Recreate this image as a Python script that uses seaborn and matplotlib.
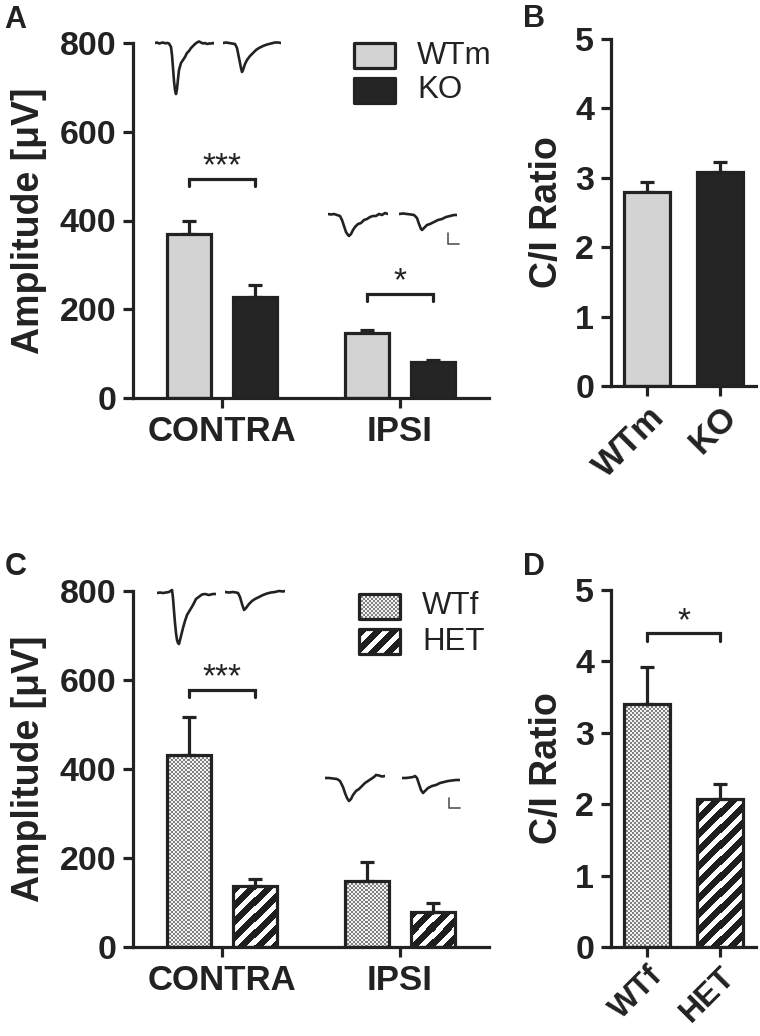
import numpy as np
import pandas as pd
import matplotlib
matplotlib.use("Agg")
import matplotlib.pyplot as plt
from matplotlib.patches import Rectangle
import seaborn as sns

# ---- data ----
sides = ["CONTRA", "IPSI"]
male_groups = ["WTm", "KO"]
female_groups = ["WTf", "HET"]

amp_wtm = [369, 146]
amp_wtm_sem = [29, 7]
amp_ko = [228, 81]
amp_ko_sem = [27, 5]

ratio_male = [2.80, 3.08]
ratio_male_sem = [0.14, 0.15]

amp_wtf = [431, 148]
amp_wtf_sem = [86, 43]
amp_het = [137, 79]
amp_het_sem = [16, 20]

ratio_female = [3.40, 2.07]
ratio_female_sem = [0.52, 0.21]

# significance brackets: category index, label, bracket height
sig_a = [(0, "***", 493), (1, "*", 234)]
sig_c = [(0, "***", 578)]
sig_d = [(None, "*", 4.40)]

# example field potential traces (arbitrary units, 1 unit ~ 1 px)
tr_a_cw_t = [0, 2, 4, 6, 8, 10, 12, 14, 16, 17, 18, 19, 20, 21, 22, 23, 24, 26, 28, 30, 32, 34, 36, 38, 40, 42, 44, 46, 48, 50, 52, 54, 56, 58, 59]
tr_a_cw_v = [0, 0.5, -0.5, 0, 0.5, -0.3, 0, -0.5, -4, -12, -25, -38, -47, -51, -46, -36, -27, -20, -17, -14, -10, -8, -5, -3, -1, 0.5, 1.5, 0.5, -0.5, 0, -1, -0.5, -0.5, 0, -0.5]
tr_a_ck_t = [0, 3, 6, 9, 12, 14, 16, 18, 19, 20, 22, 24, 27, 30, 33, 36, 40, 44, 48, 52, 55, 58]
tr_a_ck_v = [0, 0.5, 0, -0.5, -1, -5, -15, -25, -29, -27, -21, -17, -13, -10, -7, -5, -3, -1.5, -0.5, 0.5, 0.5, 0]
tr_a_iw_t = [0, 3, 6, 9, 12, 14, 16, 18, 20, 21, 23, 25, 27, 30, 33, 36, 39, 42, 45, 48, 51, 54, 57, 60]
tr_a_iw_v = [0, -0.5, 0, -1, -2, -6, -12, -18, -21, -22, -20, -16, -13, -10, -9, -6, -5, -3, -2, -2, 0, -1, 1, 0]
tr_a_ik_t = [0, 4, 8, 12, 15, 18, 20, 22, 23, 25, 28, 31, 35, 39, 43, 47, 51, 55, 58]
tr_a_ik_v = [0, 0.5, 0, -0.5, -1, -4, -10, -15, -16, -14, -11, -10, -8, -6, -5, -3, -2, -1, -1]

tr_c_cw_t = [0, 3, 6, 9, 12, 15, 16, 17, 18, 19, 20, 21, 22, 23, 24, 26, 28, 30, 33, 36, 39, 43, 45, 48, 52, 56, 59]
tr_c_cw_v = [0, 0.5, 0, 0.5, 1, 3, -5, -18, -30, -40, -47, -50, -51, -47, -43, -35, -28, -22, -17, -12, -6, -3, -1.5, -1, -2, -1, -1]
tr_c_ch_t = [0, 4, 8, 11, 13, 15, 17, 19, 21, 24, 27, 30, 34, 38, 42, 46, 50, 54, 58, 60]
tr_c_ch_v = [0, -0.5, 0, -0.5, -1, -5, -12, -18, -16, -12, -9, -7, -5, -3, -1.5, -0.5, 0, 1, 0.5, 1]
tr_c_iw_t = [0, 4, 8, 12, 15, 18, 20, 22, 24, 26, 28, 31, 34, 37, 40, 43, 46, 49, 51, 54, 57, 60]
tr_c_iw_v = [0, 0, -0.5, -1, -3, -9, -15, -20, -23, -21, -17, -13, -11, -8, -5, -3, -1, 1, 3, 2.5, 1.5, 2]
tr_c_ih_t = [0, 4, 8, 11, 13, 15, 17, 19, 21, 23, 26, 30, 34, 38, 42, 46, 50, 54, 58]
tr_c_ih_v = [0, 0, 0.5, 1, 2, 0, -6, -12, -15, -13, -10, -8, -7, -5, -4, -3, -2.5, -2, -2]

# ---- style ----
INK = "#222222"
LIGHT = "#d3d3d3"
DARK = "#252525"

sns.set_style("ticks")
plt.rcParams["font.family"] = ["Liberation Sans", "DejaVu Sans"]
plt.rcParams.update({
    "font.weight": "bold",
    "axes.labelweight": "bold",
    "axes.linewidth": 2.3,
    "axes.edgecolor": INK,
    "axes.labelcolor": INK,
    "text.color": INK,
    "xtick.color": INK,
    "ytick.color": INK,
})

W, H = 760, 1036
fig = plt.figure(figsize=(W / 100, H / 100), dpi=100)


def px_axes(left, top, right, bottom):
    return fig.add_axes([left / W, 1 - bottom / H, (right - left) / W, (bottom - top) / H])


def texture(ax, patch, kind):
    x0, y0 = patch.get_x(), patch.get_y()
    x1, y1 = x0 + patch.get_width(), y0 + patch.get_height()
    (px0, py0), (px1, py1) = ax.transData.transform([(x0, y0), (x1, y1)])
    w, h = max(int(round(px1 - px0)), 1), max(int(round(py1 - py0)), 1)
    ii, jj = np.indices((h, w))
    if kind == "checker":
        tex = np.where(((ii // 2) + (jj // 2)) % 2 == 0, 0.5, 0.95)
    else:
        tex = np.where((ii + jj) % 16 < 9, 0.12, 1.0)
    xl, yl = ax.get_xlim(), ax.get_ylim()
    im = ax.imshow(tex, cmap="gray", vmin=0, vmax=1, extent=[x0, x1, y0, y1],
                   aspect="auto", interpolation="nearest", zorder=1)
    im.set_clip_path(patch)
    patch.set_facecolor("none")
    patch.set_zorder(2)
    ax.set_xlim(xl)
    ax.set_ylim(yl)


def sem_bars(ax, container, means, sems):
    xs = [b.get_x() + b.get_width() / 2 for b in container]
    ax.errorbar(xs, means, yerr=[np.zeros(len(sems)), sems], fmt="none",
                ecolor=INK, elinewidth=2.3, capsize=4.7, capthick=2.3, zorder=1.5)


def bracket(ax, x1, x2, y, leg, label, star_off):
    ax.plot([x1, x1, x2, x2], [y - leg, y, y, y - leg], color=INK, lw=2.3,
            solid_joinstyle="miter", clip_on=False)
    ax.text((x1 + x2) / 2, y + star_off, label, ha="center", va="baseline",
            fontsize=24, fontweight="normal", clip_on=False)


def style_axes(ax, ymax, yticks, rot=0):
    ax.set_ylim(0, ymax)
    ax.set_yticks(yticks)
    ax.set_xlim(-0.5, 1.5)
    sns.despine(ax=ax)
    ax.tick_params(width=2.3, length=7.2, pad=5)
    ax.tick_params(axis="y", labelsize=24.5)
    ax.tick_params(axis="x", labelsize=25)
    ax.set_xlabel("")
    if rot:
        ax.tick_params(axis="x", labelsize=25, pad=3)
        for lab in ax.get_xticklabels():
            lab.set_rotation(45)
            lab.set_ha("right")
            lab.set_rotation_mode("anchor")


def trace(t, v, left, base):
    tax = fig.add_axes([left / W, 1 - (base + 60) / H, t[-1] / W, 70 / H])
    tax.plot(t, v, color=INK, lw=1.9, solid_joinstyle="round")
    tax.set_xlim(0, t[-1])
    tax.set_ylim(-60, 10)
    tax.axis("off")


def scale_bar(corner_x, corner_y, vlen, hlen):
    sax = fig.add_axes([corner_x / W, 1 - (corner_y + 2) / H, (hlen + 2) / W, (vlen + 4) / H])
    sax.plot([0, 0, hlen], [vlen, 0, 0], color="#555555", lw=1.2)
    sax.set_xlim(-1, hlen + 1)
    sax.set_ylim(-2, vlen + 2)
    sax.axis("off")


def legend(left, top, labels, kinds):
    lax = fig.add_axes([left / W, 1 - (top + 62) / H, 140 / W, 62 / H])
    lax.set_xlim(0, 140)
    lax.set_ylim(0, 62)
    lax.axis("off")
    for k, (lab, kind) in enumerate(zip(labels, kinds)):
        y0 = 37 - 35 * k
        fc = {"light": LIGHT, "dark": DARK}.get(kind, "white")
        r = Rectangle((0, y0), 41, 25, facecolor=fc, edgecolor=INK, lw=2.3,
                      joinstyle="round", clip_on=False)
        lax.add_patch(r)
        if kind in ("checker", "stripe"):
            texture(lax, r, kind)
        lax.text(63, y0 + 12.5, lab, va="center", ha="left", fontsize=22.5,
                 fontweight="normal", color=INK)


# ---- panel A ----
ax_a = px_axes(133, 43, 489, 398)
df_a = pd.DataFrame({"side": sides * 2,
                     "group": [male_groups[0]] * 2 + [male_groups[1]] * 2,
                     "amp": amp_wtm + amp_ko})
sns.barplot(data=df_a, x="side", y="amp", hue="group", order=sides, hue_order=male_groups,
            palette=[LIGHT, DARK], width=0.74, gap=0.34, errorbar=None, edgecolor=INK,
            linewidth=2.3, legend=False, ax=ax_a, zorder=2)
style_axes(ax_a, 800, [0, 200, 400, 600, 800])
sem_bars(ax_a, ax_a.containers[0], amp_wtm, amp_wtm_sem)
sem_bars(ax_a, ax_a.containers[1], amp_ko, amp_ko_sem)
ax_a.set_ylabel("Amplitude [μV]", fontsize=27, fontweight="bold", labelpad=9)
for idx, lab, yb in sig_a:
    b1, b2 = ax_a.containers[0][idx], ax_a.containers[1][idx]
    bracket(ax_a, b1.get_x() + b1.get_width() / 2, b2.get_x() + b2.get_width() / 2,
            yb, 15, lab, 8)
legend(354, 43, male_groups, ["light", "dark"])
trace(tr_a_cw_t, tr_a_cw_v, 155, 43)
trace(tr_a_ck_t, tr_a_ck_v, 223, 43)
trace(tr_a_iw_t, tr_a_iw_v, 328, 214)
trace(tr_a_ik_t, tr_a_ik_v, 399, 214)
scale_bar(447, 244, 11, 11)

# ---- panel B ----
ax_b = px_axes(611, 39, 756, 386)
df_b = pd.DataFrame({"group": male_groups, "ratio": ratio_male})
sns.barplot(data=df_b, x="group", y="ratio", hue="group", palette=[LIGHT, DARK],
            width=0.64, errorbar=None, edgecolor=INK, linewidth=2.3, legend=False,
            ax=ax_b, zorder=2)
style_axes(ax_b, 5, [0, 1, 2, 3, 4, 5], rot=45)
sem_bars(ax_b, ax_b.containers[0], ratio_male[:1], ratio_male_sem[:1])
sem_bars(ax_b, ax_b.containers[1], ratio_male[1:], ratio_male_sem[1:])
ax_b.set_ylabel("C/I Ratio", fontsize=27, fontweight="bold", labelpad=7)

# ---- panel C ----
ax_c = px_axes(133, 591, 489, 947)
df_c = pd.DataFrame({"side": sides * 2,
                     "group": [female_groups[0]] * 2 + [female_groups[1]] * 2,
                     "amp": amp_wtf + amp_het})
sns.barplot(data=df_c, x="side", y="amp", hue="group", order=sides, hue_order=female_groups,
            palette=["white", "white"], width=0.74, gap=0.34, errorbar=None, edgecolor=INK,
            linewidth=2.3, legend=False, ax=ax_c, zorder=2)
style_axes(ax_c, 800, [0, 200, 400, 600, 800])
for b in ax_c.containers[0]:
    texture(ax_c, b, "checker")
for b in ax_c.containers[1]:
    texture(ax_c, b, "stripe")
sem_bars(ax_c, ax_c.containers[0], amp_wtf, amp_wtf_sem)
sem_bars(ax_c, ax_c.containers[1], amp_het, amp_het_sem)
ax_c.set_ylabel("Amplitude [μV]", fontsize=27, fontweight="bold", labelpad=9)
for idx, lab, yb in sig_c:
    b1, b2 = ax_c.containers[0][idx], ax_c.containers[1][idx]
    bracket(ax_c, b1.get_x() + b1.get_width() / 2, b2.get_x() + b2.get_width() / 2,
            yb, 16, lab, 8)
legend(359, 594, female_groups, ["checker", "stripe"])
trace(tr_c_cw_t, tr_c_cw_v, 157, 593)
trace(tr_c_ch_t, tr_c_ch_v, 225, 592)
trace(tr_c_iw_t, tr_c_iw_v, 325, 778)
trace(tr_c_ih_t, tr_c_ih_v, 402, 778)
scale_bar(448, 808, 10, 11)

# ---- panel D ----
ax_d = px_axes(611, 590, 756, 947)
df_d = pd.DataFrame({"group": female_groups, "ratio": ratio_female})
sns.barplot(data=df_d, x="group", y="ratio", hue="group", palette=["white", "white"],
            width=0.64, errorbar=None, edgecolor=INK, linewidth=2.3, legend=False,
            ax=ax_d, zorder=2)
style_axes(ax_d, 5, [0, 1, 2, 3, 4, 5], rot=45)
ax_d.tick_params(axis="x", labelsize=23)
texture(ax_d, ax_d.containers[0][0], "checker")
texture(ax_d, ax_d.containers[1][0], "stripe")
sem_bars(ax_d, ax_d.containers[0], ratio_female[:1], ratio_female_sem[:1])
sem_bars(ax_d, ax_d.containers[1], ratio_female[1:], ratio_female_sem[1:])
ax_d.set_ylabel("C/I Ratio", fontsize=27, fontweight="bold", labelpad=7)
for _, lab, yb in sig_d:
    b1, b2 = ax_d.containers[0][0], ax_d.containers[1][0]
    bracket(ax_d, b1.get_x() + b1.get_width() / 2, b2.get_x() + b2.get_width() / 2,
            yb, 0.12, lab, 0.04)

# panel letters
for letter, x, y in [("A", 4, 28), ("B", 523, 27), ("C", 5, 575), ("D", 523, 575)]:
    fig.text(x / W, 1 - y / H, letter, fontsize=22, fontweight="bold", va="baseline")

fig.savefig("out.png", dpi=100)
